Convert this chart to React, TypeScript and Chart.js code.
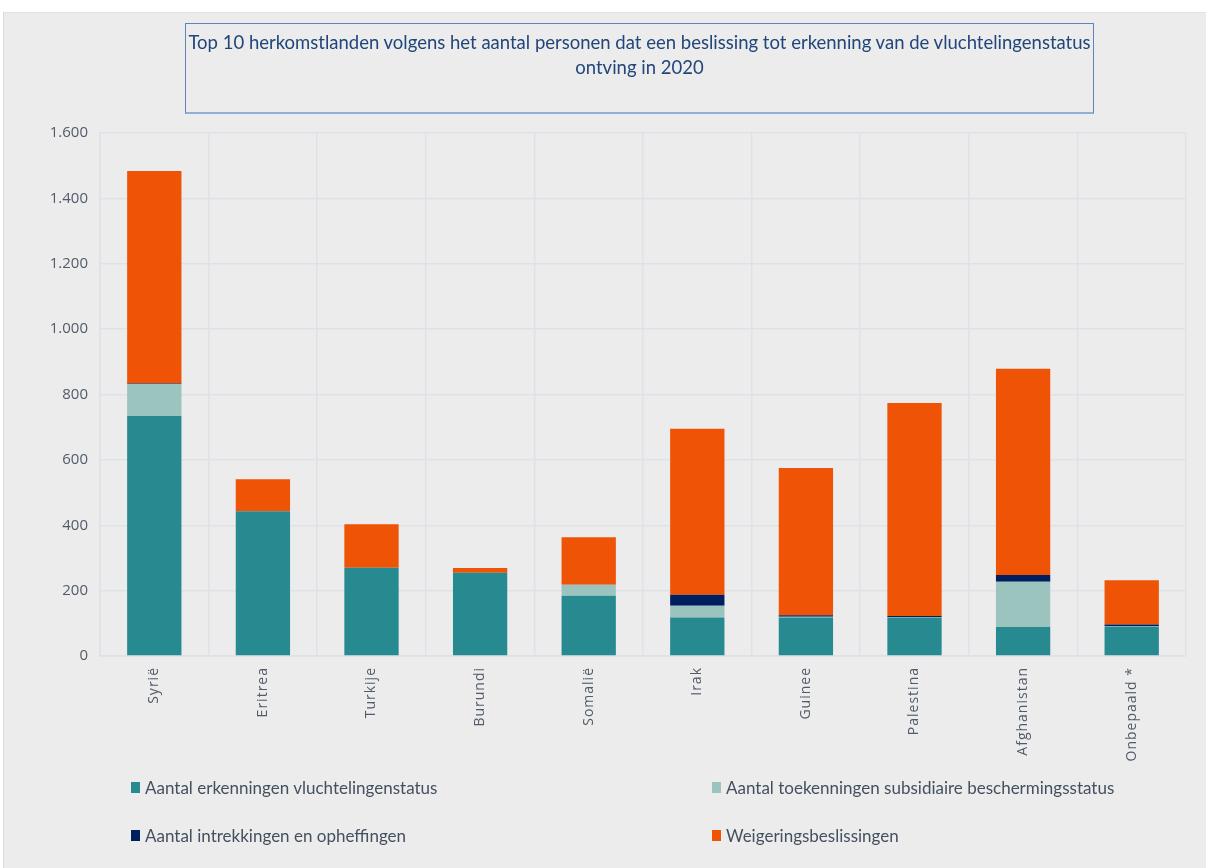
import React, { useEffect, useRef } from "react";
import { Chart, registerables } from "chart.js";

Chart.register(...registerables);

const categories = ["Syrië", "Eritrea", "Turkije", "Burundi", "Somalië", "Irak", "Guinee", "Palestina", "Afghanistan", "Onbepaald *"];
const erkenningen = [734, 443, 270, 255, 184, 118, 118, 118, 89, 90];
const subsidiair = [97, 0, 0, 0, 34, 36, 2, 1, 138, 2];
const intrekkingen = [3, 0, 0, 0, 0, 33, 5, 3, 21, 4];
const weigeringen = [650, 98, 133, 14, 145, 508, 450, 652, 631, 136];

const seriesLabels = [
  "Aantal erkenningen vluchtelingenstatus",
  "Aantal toekenningen subsidiaire beschermingsstatus",
  "Aantal intrekkingen en opheffingen",
  "Weigeringsbeslissingen",
];
const seriesColors = ["#278A90", "#9BC4BE", "#001F5F", "#EF5305"];
const yTicks = [0, 200, 400, 600, 800, 1000, 1200, 1400, 1600];

const titleLines = [
  "Top 10 herkomstlanden volgens het aantal personen dat een beslissing tot erkenning van de vluchtelingenstatus",
  "ontving in 2020",
];

const gridColor = "#DDE2E9";

const spacingPlugin = {
  id: "xLabelSpacing",
  afterDatasetsDraw(chart: any) {
    chart.ctx.letterSpacing = "1px";
  },
  afterDraw(chart: any) {
    chart.ctx.letterSpacing = "0px";
  },
};

export default function App() {
  const canvasRef = useRef<HTMLCanvasElement | null>(null);

  useEffect(() => {
    document.body.style.margin = "0";
    const canvas = canvasRef.current;
    if (!canvas) return;
    const values = [erkenningen, subsidiair, intrekkingen, weigeringen];
    const chart = new Chart(canvas, {
      type: "bar",
      data: {
        labels: categories,
        datasets: values.map((v, i) => ({
          label: seriesLabels[i],
          data: v,
          backgroundColor: seriesColors[i],
          borderWidth: 0,
          barPercentage: 0.5,
          categoryPercentage: 1,
        })),
      },
      plugins: [spacingPlugin],
      options: {
        responsive: false,
        animation: false,
        devicePixelRatio: 1,
        layout: { padding: { left: 40, right: 20, top: 133, bottom: 72 } },
        plugins: {
          legend: { display: false },
          title: { display: false },
          tooltip: { enabled: false },
        },
        scales: {
          x: {
            stacked: true,
            clip: false,
            grid: { color: gridColor, lineWidth: 1.5, offset: true, drawTicks: false, z: 0 },
            border: { color: gridColor, width: 1.5, z: 0 },
            ticks: {
              z: 1,
              minRotation: 90,
              maxRotation: 90,
              autoSkip: false,
              padding: 11,
              color: "#525B68",
              font: { family: "Open Sans", size: 14 },
            },
            afterFit: (s: any) => {
              s.height = 140;
            },
          },
          y: {
            stacked: true,
            min: 0,
            max: 1600,
            afterBuildTicks: (s: any) => {
              s.ticks = yTicks.map((v) => ({ value: v }));
            },
            grid: { color: gridColor, lineWidth: 1.5, drawTicks: false },
            border: { color: gridColor, width: 1.5 },
            ticks: {
              padding: 12,
              color: "#525B68",
              font: { family: "Open Sans", size: 15 },
              callback: (v: any) => Number(v).toLocaleString("de-DE"),
            },
            afterFit: (s: any) => {
              s.width = 60;
            },
          },
        },
      },
    });
    return () => chart.destroy();
  }, []);

  const legendPos = [
    { left: 131, top: 787 },
    { left: 712, top: 787 },
    { left: 131, top: 835 },
    { left: 712, top: 835 },
  ];

  return (
    <div style={{ position: "relative", width: 1206, height: 868, background: "#FFFFFF", overflow: "hidden" }}>
      <div
        style={{
          position: "absolute",
          left: 3,
          top: 12,
          right: 0,
          bottom: 0,
          background: "#ECECEC",
          borderLeft: "1px solid #DADADA",
          borderTop: "1px solid #E2E2E2",
        }}
      />
      <canvas
        ref={canvasRef}
        width={1206}
        height={868}
        style={{ position: "absolute", left: 0, top: 0, width: 1206, height: 868 }}
      />
      <div
        style={{
          position: "absolute",
          left: 185,
          top: 23,
          width: 907,
          height: 82,
          border: "1px solid #5A86B8",
          borderBottom: "2px solid #8FAFD3",
          textAlign: "center",
          fontFamily: "Lato, 'Open Sans', sans-serif",
          fontSize: 18.5,
          lineHeight: "25px",
          color: "#22467A",
          paddingTop: 6,
          boxSizing: "content-box",
        }}
      >
        {titleLines.map((t, i) => (
          <div key={i} style={{ whiteSpace: "nowrap" }}>{t}</div>
        ))}
      </div>
      {seriesLabels.map((l, i) => (
        <div
          key={i}
          style={{
            position: "absolute",
            left: legendPos[i].left,
            top: legendPos[i].top - 11,
            height: 22,
            display: "flex",
            alignItems: "center",
            fontFamily: "Lato, 'Open Sans', sans-serif",
            fontSize: 17,
            color: "#44505F",
            whiteSpace: "nowrap",
          }}
        >
          <span style={{ display: "inline-block", width: 9, height: 11, background: seriesColors[i], marginRight: 5 }} />
          {l}
        </div>
      ))}
    </div>
  );
}
